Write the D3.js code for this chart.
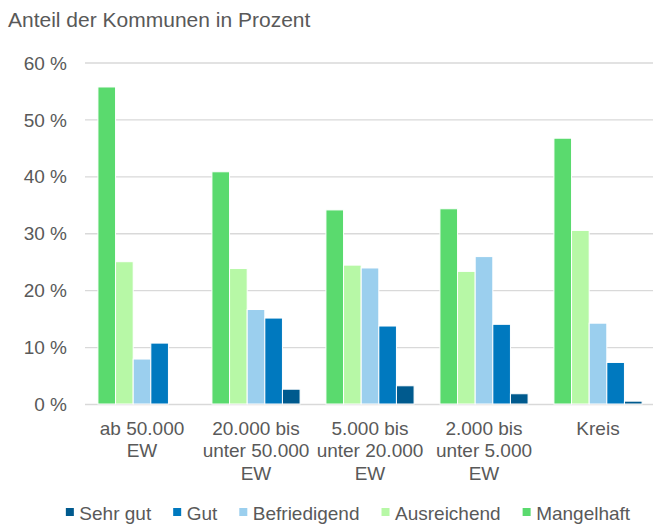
<!DOCTYPE html>
<html>
<head>
<meta charset="utf-8">
<script src="https://cdn.jsdelivr.net/npm/d3@7"></script>
<style>
  body { margin: 0; background: #fff; }
  text { font-family: "Liberation Sans", Arial, sans-serif; fill: #595959; }
</style>
</head>
<body>
<div id="chart"></div>
<script>
// categories (x axis), one label line per "\n"
const categories = ["ab 50.000\nEW", "20.000 bis\nunter 50.000\nEW", "5.000 bis\nunter 20.000\nEW", "2.000 bis\nunter 5.000\nEW", "Kreis"]

// values in percent
const mangelhaft   = [55.7, 40.8, 34.1, 34.3, 46.7]
const ausreichend  = [25.0, 23.8, 24.4, 23.3, 30.5]
const befriedigend = [7.9, 16.6, 23.9, 25.9, 14.2]
const gut          = [10.7, 15.1, 13.7, 14.0, 7.3]
const sehrGut      = [0, 2.6, 3.2, 1.8, 0.5]

const yTicks = [0, 10, 20, 30, 40, 50, 60]

// bar order inside a group, and legend order
const barSeries = [
    { name: "Mangelhaft", values: mangelhaft, colour: "#5ada6e" },
    { name: "Ausreichend", values: ausreichend, colour: "#b7f8a6" },
    { name: "Befriedigend", values: befriedigend, colour: "#9bcfee" },
    { name: "Gut", values: gut, colour: "#0079bf" },
    { name: "Sehr gut", values: sehrGut, colour: "#005a8e" }
]
const legendOrder = ["Sehr gut", "Gut", "Befriedigend", "Ausreichend", "Mangelhaft"]

const width = 653
const height = 528

const svg = d3.select("#chart").append("svg")
    .attr("width", width)
    .attr("height", height)
    .attr("viewBox", [0, 0, width, height])

// title
svg.append("text")
    .attr("x", 8)
    .attr("y", 26.5)
    .style("font-size", "21px")
    .text("Anteil der Kommunen in Prozent")

const x0 = d3.scaleBand()
    .domain(d3.range(categories.length))
    .range([85, 655])
    .padding(0)

const x1 = d3.scaleBand()
    .domain(barSeries.map(d => d.name))
    .range([0, x0.bandwidth()])
    .paddingInner(0)
    .paddingOuter(0.733)

const y = d3.scaleLinear()
    .domain([0, 60])
    .range([404, 62.5])

// grid lines + tick labels
const yAxis = svg.append("g")
    .attr("transform", "translate(85,0)")
    .call(d3.axisLeft(y).tickValues(yTicks).tickSize(-(width - 85)).tickPadding(18).tickFormat(d => d + " %"))
yAxis.select(".domain").remove()
yAxis.selectAll(".tick line")
    .attr("stroke", "#d9d9d9")
    .attr("stroke-width", 1.3)
yAxis.selectAll(".tick text")
    .attr("fill", "#595959")
    .style("font-size", "19px")
    .style("font-family", "Liberation Sans, Arial, sans-serif")
    .attr("dy", "0.35em")

// bars
const groups = svg.append("g")
    .selectAll("g")
    .data(categories)
    .join("g")
    .attr("transform", (d, i) => `translate(${x0(i)},0)`)

groups.selectAll("rect")
    .data((d, i) => barSeries.map(s => ({ name: s.name, value: s.values[i], colour: s.colour })))
    .join("rect")
    .attr("x", d => x1(d.name))
    .attr("y", d => y(d.value))
    .attr("width", x1.bandwidth())
    .attr("height", d => y(0) - y(d.value))
    .attr("fill", d => d.colour)
    .attr("stroke", d => d.value > 0 ? "#fff" : "none")
    .attr("stroke-width", 1)

// category labels
svg.append("g")
    .selectAll("text")
    .data(categories)
    .join("text")
    .attr("text-anchor", "middle")
    .style("font-size", "19px")
    .each(function (d, i) {
        const t = d3.select(this)
        d.split("\n").forEach((line, k) => {
            t.append("tspan")
                .attr("x", x0(i) + x0.bandwidth() / 2)
                .attr("y", 435 + 22.3 * k)
                .text(line)
        })
    })

// legend
const legend = svg.append("g")
let lx = 0
legendOrder.forEach(name => {
    const s = barSeries.find(d => d.name === name)
    const item = legend.append("g").attr("transform", `translate(${lx},0)`)
    item.append("rect")
        .attr("x", 0)
        .attr("y", -12)
        .attr("width", 8)
        .attr("height", 8)
        .attr("fill", s.colour)
    const t = item.append("text")
        .attr("x", 13.5)
        .attr("y", 0)
        .style("font-size", "19px")
        .text(name)
    lx += 13.5 + t.node().getComputedTextLength() + 22
})
const legendWidth = lx - 22
legend.attr("transform", `translate(${348 - legendWidth / 2},520)`)
</script>
</body>
</html>
